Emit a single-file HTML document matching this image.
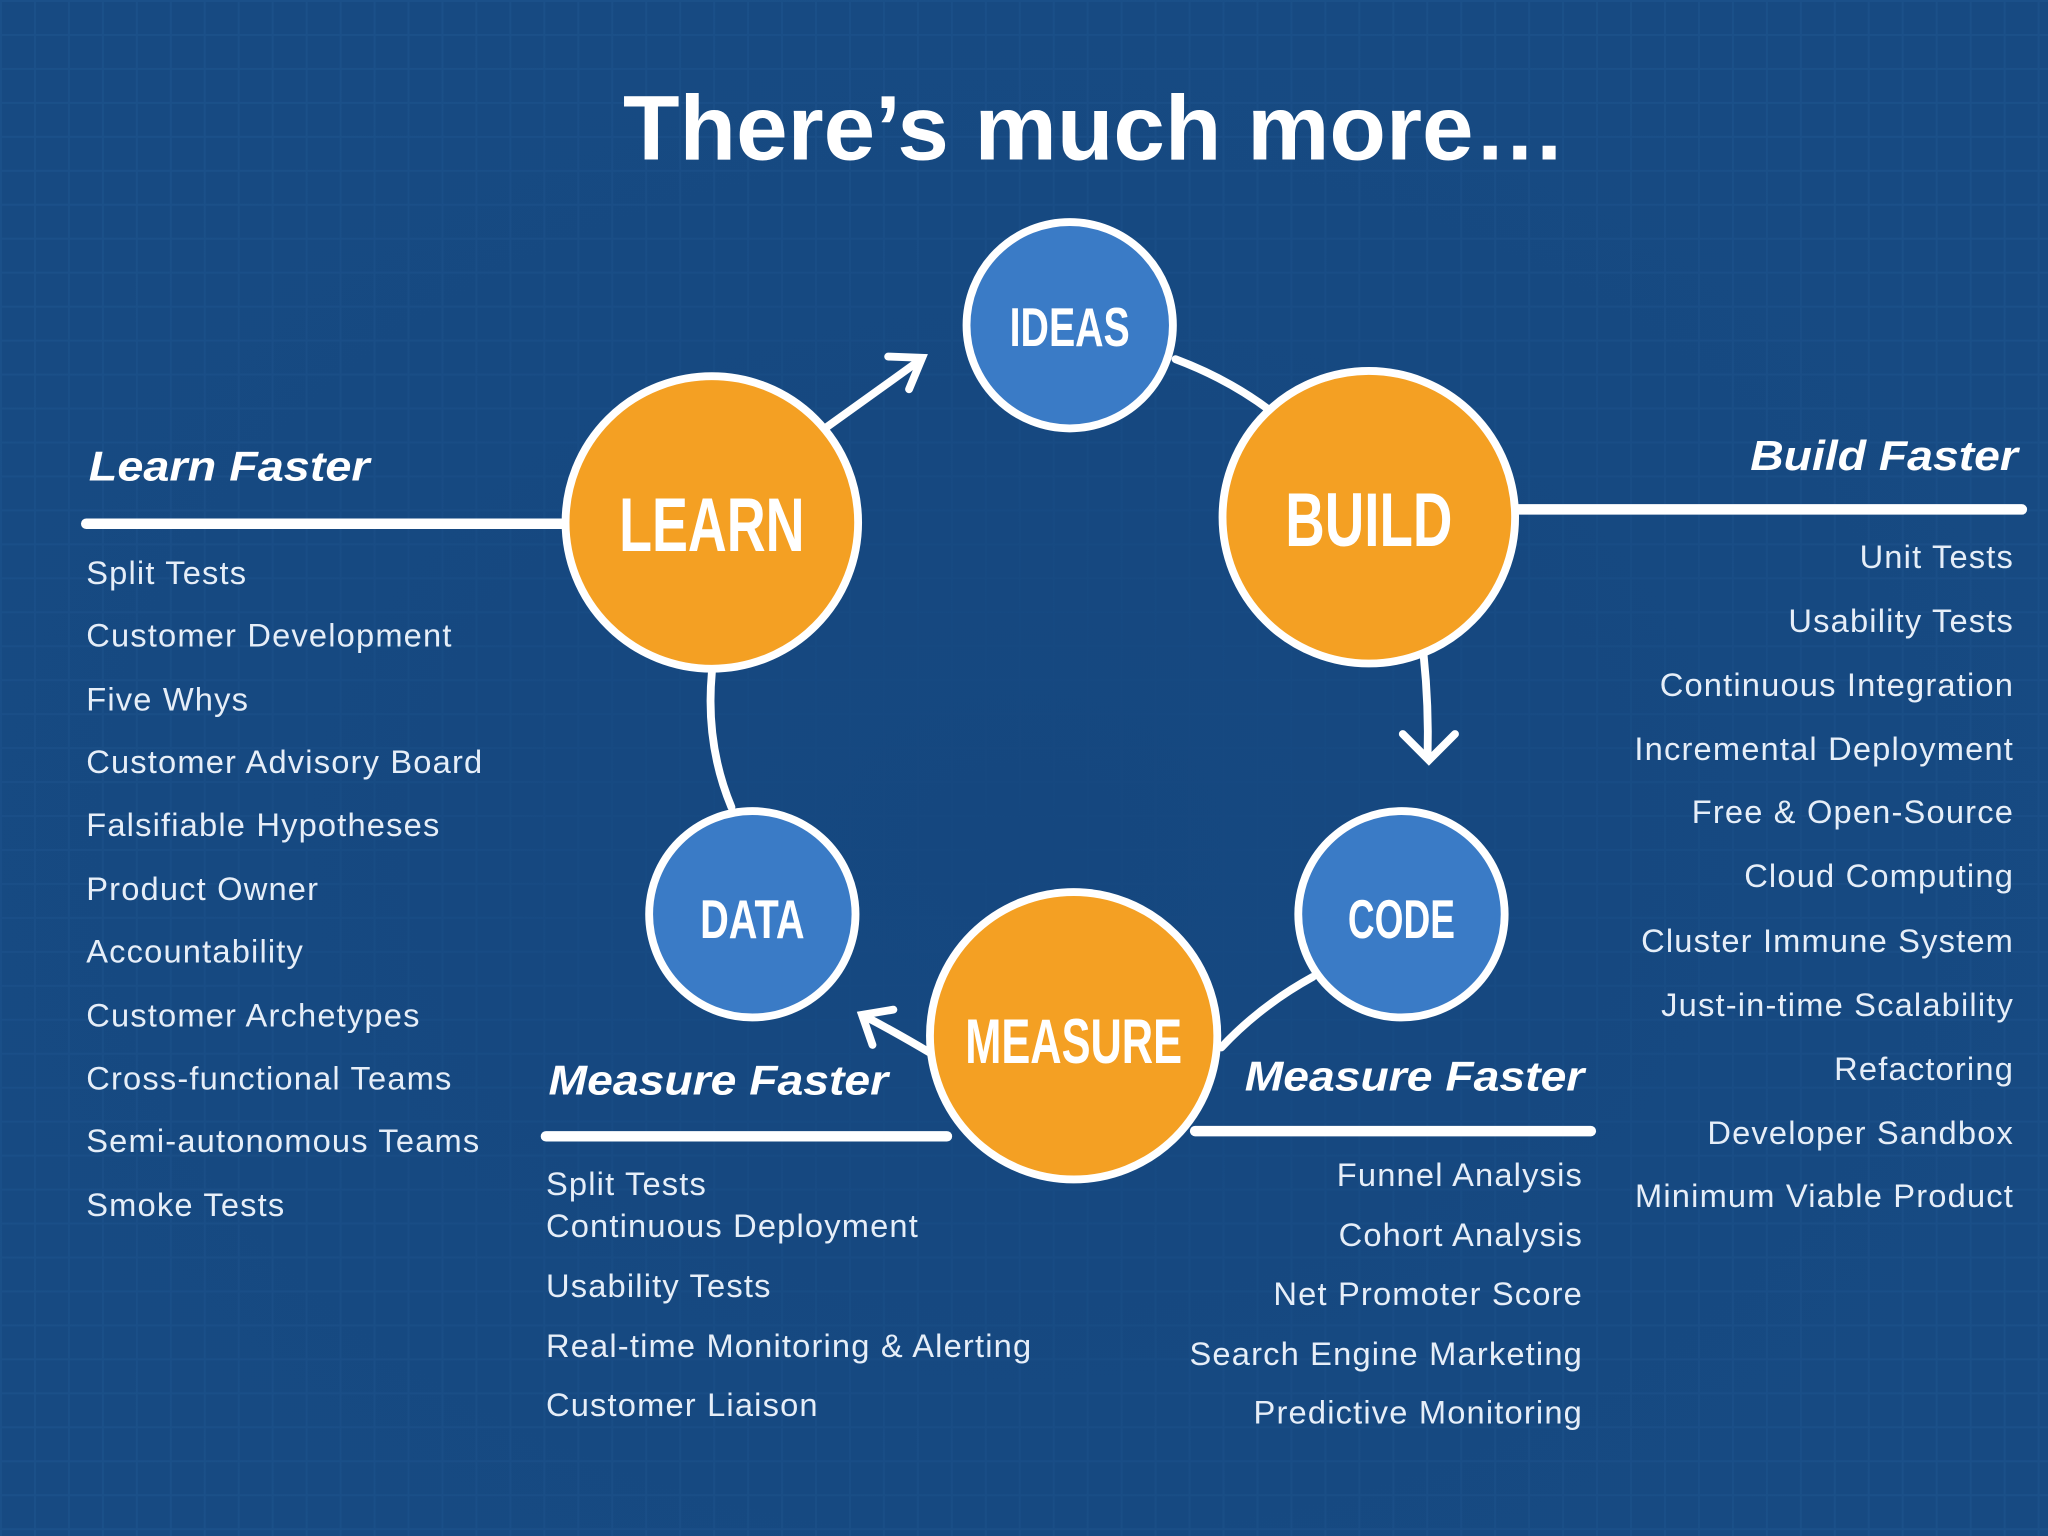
<!DOCTYPE html>
<html><head><meta charset="utf-8"><style>
html,body{margin:0;padding:0;background:#174a82;}
svg{display:block}
</style></head><body>
<svg width="2048" height="1536" viewBox="0 0 1568 1176" xmlns="http://www.w3.org/2000/svg">
<defs>
<pattern id="g" width="26" height="26" patternUnits="userSpaceOnUse">
<rect width="26" height="26" fill="#174a82"/>
<path d="M0 0.5H26M0.5 0V26" stroke="#1b5089" stroke-width="2"/>
</pattern>
<radialGradient id="bg" cx="50%" cy="55%" r="60%">
<stop offset="0" stop-color="#15477f" stop-opacity="1"/>
<stop offset="1" stop-color="#15477f" stop-opacity="0"/>
</radialGradient>
</defs>
<rect width="1568" height="1176" fill="url(#g)"/>
<rect width="1568" height="1176" fill="url(#bg)"/>
<g font-family="Liberation Sans, sans-serif" fill="#fff">
<text x="838" y="122" font-size="70" font-weight="bold" text-anchor="middle" textLength="722" lengthAdjust="spacingAndGlyphs">There’s much more…</text>
</g>
<g stroke="#fff" stroke-width="6" fill="none" stroke-linecap="round">
<path d="M633 327 L704 276"/>
<path d="M680 273 L706 274 L696 298"/>
<path d="M900 275 Q940 290 972 314"/>
<path d="M1090 502 Q1094 540 1093 580"/>
<path d="M1074 562 L1094 582 L1114 562"/>
<path d="M1005 748 Q965 770 935 802"/>
<path d="M712 806 Q685 790 662 778"/>
<path d="M668 800 L660 777 L684 773"/>
<path d="M560 618 Q540 570 545 515"/>
<path d="M66 401 H440" stroke-width="8"/>
<path d="M1160 390 H1548" stroke-width="8"/>
<path d="M418 870 H725" stroke-width="8"/>
<path d="M915 866 H1218" stroke-width="8"/>
</g>
<g stroke="#fff" stroke-width="6">
<circle cx="819" cy="249" r="79" fill="#3a7bc6"/>
<circle cx="545" cy="400" r="112" fill="#f4a023"/>
<circle cx="1048" cy="396" r="112" fill="#f4a023"/>
<circle cx="576" cy="700" r="79" fill="#3a7bc6"/>
<circle cx="1073" cy="700" r="79" fill="#3a7bc6"/>
<circle cx="822" cy="793" r="110" fill="#f4a023"/>
</g>
<g font-family="Liberation Sans Narrow, Liberation Sans, sans-serif" font-weight="bold" fill="#fff" text-anchor="middle">
<text x="819" y="265" font-size="42" textLength="92" lengthAdjust="spacingAndGlyphs">IDEAS</text>
<text x="545" y="422" font-size="58" textLength="142" lengthAdjust="spacingAndGlyphs">LEARN</text>
<text x="1048" y="418" font-size="58" textLength="128" lengthAdjust="spacingAndGlyphs">BUILD</text>
<text x="576" y="718" font-size="42" textLength="80" lengthAdjust="spacingAndGlyphs">DATA</text>
<text x="1073" y="718" font-size="42" textLength="82" lengthAdjust="spacingAndGlyphs">CODE</text>
<text x="822" y="814" font-size="48" textLength="166" lengthAdjust="spacingAndGlyphs">MEASURE</text>
</g>
<g font-family="Liberation Sans, sans-serif" fill="#fff" font-style="italic" font-weight="bold" font-size="32">
<text x="68" y="368" textLength="215" lengthAdjust="spacingAndGlyphs">Learn Faster</text>
<text x="1340" y="360" textLength="205" lengthAdjust="spacingAndGlyphs">Build Faster</text>
<text x="420" y="838" textLength="260" lengthAdjust="spacingAndGlyphs">Measure Faster</text>
<text x="953" y="835" textLength="260" lengthAdjust="spacingAndGlyphs">Measure Faster</text>
</g>
<g font-family="Liberation Sans, sans-serif" fill="#e6eef8" font-size="25" letter-spacing="0.9">
<text x="66" y="447">Split Tests</text>
<text x="66" y="495">Customer Development</text>
<text x="66" y="544">Five Whys</text>
<text x="66" y="592">Customer Advisory Board</text>
<text x="66" y="640">Falsifiable Hypotheses</text>
<text x="66" y="689">Product Owner</text>
<text x="66" y="737">Accountability</text>
<text x="66" y="786">Customer Archetypes</text>
<text x="66" y="834">Cross-functional Teams</text>
<text x="66" y="882">Semi-autonomous Teams</text>
<text x="66" y="931">Smoke Tests</text>
<g text-anchor="end">
<text x="1542" y="435">Unit Tests</text>
<text x="1542" y="484">Usability Tests</text>
<text x="1542" y="533">Continuous Integration</text>
<text x="1542" y="582">Incremental Deployment</text>
<text x="1542" y="630">Free &amp; Open-Source</text>
<text x="1542" y="679">Cloud Computing</text>
<text x="1542" y="729">Cluster Immune System</text>
<text x="1542" y="778">Just-in-time Scalability</text>
<text x="1542" y="827">Refactoring</text>
<text x="1542" y="876">Developer Sandbox</text>
<text x="1542" y="924">Minimum Viable Product</text>
<text x="1212" y="908">Funnel Analysis</text>
<text x="1212" y="954">Cohort Analysis</text>
<text x="1212" y="999">Net Promoter Score</text>
<text x="1212" y="1045">Search Engine Marketing</text>
<text x="1212" y="1090">Predictive Monitoring</text>
</g>
<text x="418" y="915">Split Tests</text>
<text x="418" y="947">Continuous Deployment</text>
<text x="418" y="993">Usability Tests</text>
<text x="418" y="1039">Real-time Monitoring &amp; Alerting</text>
<text x="418" y="1084">Customer Liaison</text>
</g>
</svg>
</body></html>
